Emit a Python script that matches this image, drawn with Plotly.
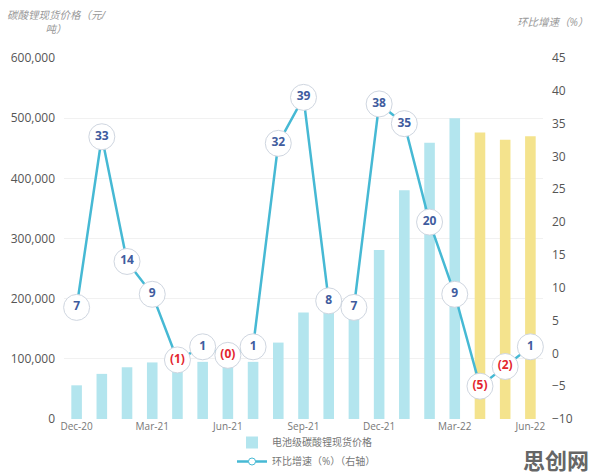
import plotly.graph_objects as go

months = ["Dec-20", "Jan-21", "Feb-21", "Mar-21", "Apr-21", "May-21", "Jun-21", "Jul-21",
          "Aug-21", "Sep-21", "Oct-21", "Nov-21", "Dec-21", "Jan-22", "Feb-22", "Mar-22",
          "Apr-22", "May-22", "Jun-22"]
price = [56000, 75000, 86000, 94000, 93000, 95000, 94000, 95000,
         127000, 177000, 187000, 199000, 281000, 380000, 459000, 500000,
         476000, 464000, 470000]
growth = [7, 33, 14, 9, -1, 1, -0.3, 1, 32, 39, 8, 7, 38, 35, 20, 9, -5, -2, 1]
tick_months = ["Dec-20", "Mar-21", "Jun-21", "Sep-21", "Dec-21", "Mar-22", "Jun-22"]
left_ticks = [0, 100000, 200000, 300000, 400000, 500000, 600000]
right_ticks = [-10, -5, 0, 5, 10, 15, 20, 25, 30, 35, 40, 45]

CYAN = "#b3e5ee"
YELLOW = "#f4e38d"
LINE = "#46b9d4"
bar_colors = [CYAN] * 16 + [YELLOW] * 3

labels = [("(%d)" % round(abs(v))) if v < 0 else str(round(v)) for v in growth]
label_colors = ["#e3262f" if v < 0 else "#3f5c9e" for v in growth]

font_fam = "Open Sans, Noto Sans CJK SC, sans-serif"

fig = go.Figure()
fig.add_trace(go.Bar(
    x=months, y=price, name="电池级碳酸锂现货价格",
    marker=dict(color=bar_colors, line=dict(width=0)),
    width=0.42, yaxis="y",
))
fig.add_trace(go.Scatter(
    x=months, y=growth, name="环比增速（%）（右轴）", yaxis="y2",
    mode="lines+markers+text", showlegend=False,
    line=dict(color=LINE, width=2.5),
    marker=dict(size=26, color="white", line=dict(color="#cfd6e0", width=1)),
    text=labels, textposition="middle center",
    textfont=dict(color=label_colors, size=12, family="Open Sans, sans-serif", weight="bold"),
    cliponaxis=False,
))
# legend-only entry for the line series (small marker as in the reference legend)
fig.add_trace(go.Scatter(
    x=[None], y=[None], name="环比增速（%）（右轴）", yaxis="y2",
    mode="lines+markers",
    line=dict(color=LINE, width=2.5),
    marker=dict(size=7, color="white", line=dict(color=LINE, width=1)),
))

fig.update_layout(
    width=596, height=476,
    margin=dict(l=64, r=53, t=58, b=57, autoexpand=False),
    paper_bgcolor="white", plot_bgcolor="white",
    font=dict(family=font_fam, color="#555"),
    xaxis=dict(
        type="category", tickmode="array", tickvals=tick_months, ticktext=tick_months,
        tickfont=dict(size=10, color="#777"), showgrid=False, showline=False,
        ticks="", range=[-0.5, 18.5],
    ),
    yaxis=dict(
        range=[0, 600000], tickvals=left_ticks, tickformat=",",
        tickfont=dict(size=12, color="#555"), showgrid=True, gridcolor="#f1f1f1",
        zeroline=False, showline=False, ticks="", ticklabelstandoff=8,
    ),
    yaxis2=dict(
        overlaying="y", side="right", range=[-10, 45], tickvals=right_ticks,
        tickfont=dict(size=12, color="#555"), showgrid=False, zeroline=False,
        showline=False, ticks="", ticklabelstandoff=8,
    ),
    legend=dict(
        orientation="v", xref="container", yref="container",
        x=232 / 596, y=0.0, xanchor="left", yanchor="bottom",
        font=dict(size=10, color="#777", family=font_fam),
        bgcolor="rgba(0,0,0,0)", tracegroupgap=0, itemwidth=30,
        traceorder="normal",
    ),
    showlegend=True,
)

fig.add_annotation(
    xref="paper", yref="paper", x=(57 - 64) / 479, y=1 + (58 - 6) / 361,
    xanchor="center", yanchor="top", showarrow=False, align="center",
    text="碳酸锂现货价格（元/<br>吨）",
    font=dict(size=10.5, color="#999", family=font_fam, style="italic"),
)
fig.add_annotation(
    xref="paper", yref="paper", x=(552 - 64) / 479, y=1 + (58 - 22) / 361,
    xanchor="center", yanchor="middle", showarrow=False,
    text="环比增速（%）",
    font=dict(size=10.5, color="#999", family=font_fam, style="italic"),
)
fig.add_annotation(
    xref="paper", yref="paper", x=(591 - 64) / 479, y=-(459 - 419) / 361,
    xanchor="right", yanchor="middle", showarrow=False,
    text="<b>思创网</b>",
    font=dict(size=22, color="#666", family="Noto Sans CJK SC"),
)

fig.write_html("out.html")
